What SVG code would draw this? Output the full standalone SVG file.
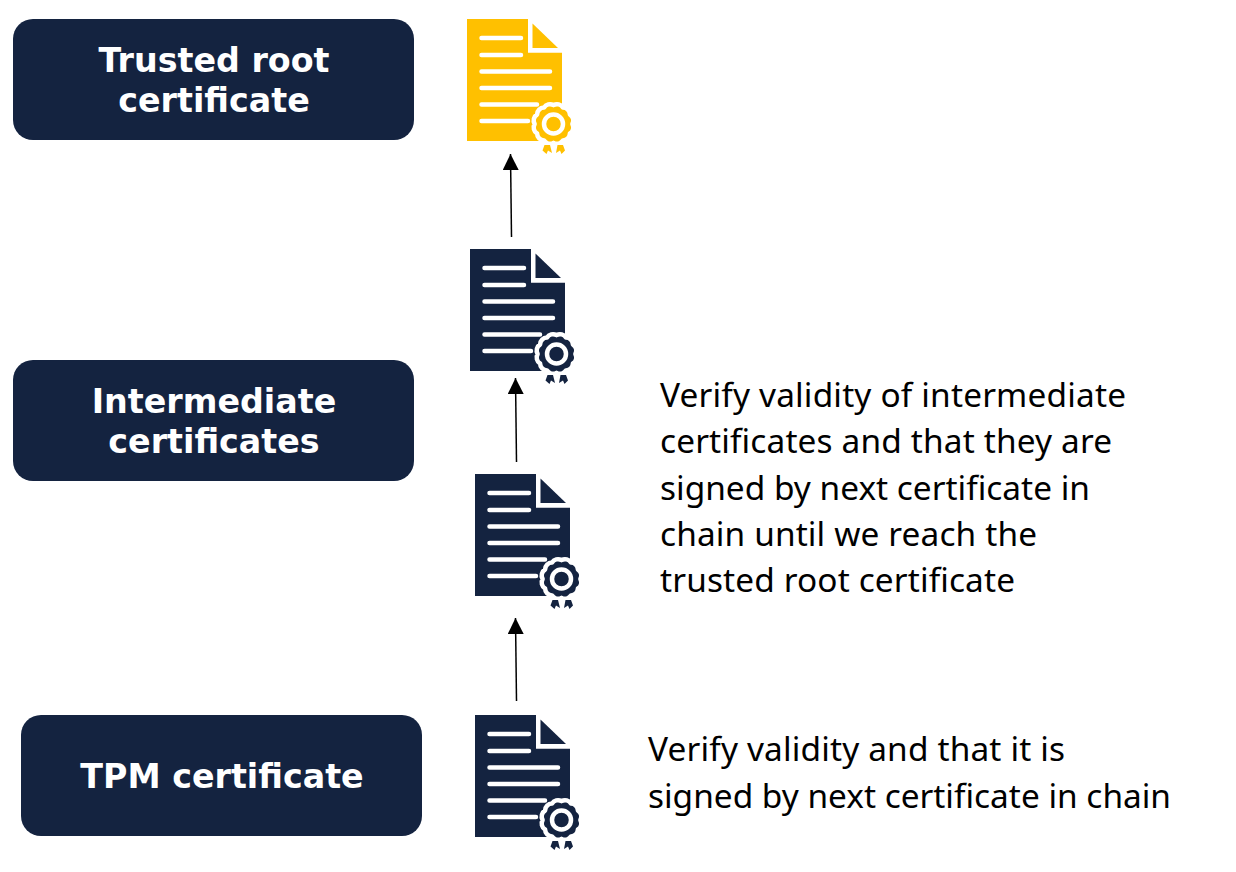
<svg xmlns="http://www.w3.org/2000/svg" width="1236" height="872" viewBox="0 0 1236 872">
<style>
.box{fill:#142340}
.lbl{font-family:"DejaVu Sans",sans-serif;font-weight:700;font-size:33.3px;fill:#fff;text-anchor:middle}
.txt{font-family:"Noto Sans","Open Sans",sans-serif;font-size:33.4px;fill:#000}
.navy{color:#142340}
.gold{color:#ffc000}
.ln{stroke:#fff;stroke-width:4.500;stroke-linecap:round;fill:none}
.conn{stroke:#000;stroke-width:1.5;fill:none;marker-end:url(#ah)}
</style>
<defs>
<marker id="ah" markerUnits="userSpaceOnUse" markerWidth="18" markerHeight="18" refX="16" refY="8" orient="auto"><path d="M0 0L16 8L0 16Z" fill="#000"/></marker>
<path id="scallop" d="M17.500 0A6.500 6.500 0 0 1 15.200 8.800A6.500 6.500 0 0 1 8.800 15.200A6.500 6.500 0 0 1 0 17.500A6.500 6.500 0 0 1 -8.800 15.200A6.500 6.500 0 0 1 -15.200 8.800A6.500 6.500 0 0 1 -17.500 0A6.500 6.500 0 0 1 -15.200 -8.800A6.500 6.500 0 0 1 -8.800 -15.200A6.500 6.500 0 0 1 0 -17.500A6.500 6.500 0 0 1 8.800 -15.200A6.500 6.500 0 0 1 15.200 -8.800A6.500 6.500 0 0 1 17.500 0Z"/>
<g id="cert">
<path d="M0 0H61V33.700H95V122H0Z" fill="currentColor"/>
<path d="M65.500 4.500L91 29H65.500Z" fill="currentColor"/>
<path class="ln" d="M14.500 19H54M14.500 36H54M14.500 52.500H83M14.500 69H83M14.500 85.500H70M14.500 102H61"/>
<g transform="translate(86.500 105)">
<use href="#scallop" transform="scale(1.08)" fill="currentColor" stroke="#fff" stroke-width="4.200" stroke-linejoin="round"/>
<circle r="9.500" fill="none" stroke="#fff" stroke-width="4.500"/>
</g>
<path fill="currentColor" d="M77.500 126H83L85 134L81 131.500L79.500 135L75.500 131.500ZM90.500 126H96L98 131.500L94.500 135L93 131.500L89 134Z"/>
</g>
</defs>
<g id="connectors">
<path class="conn" d="M511.500 237L510.500 154"/>
<path class="conn" d="M516.500 462L515.500 378"/>
<path class="conn" d="M516.500 701L515.500 618"/>
</g>
<g id="node-root-label"><rect class="box" x="13" y="19" width="401" height="121" rx="20"/><text class="lbl" x="214" y="72">Trusted root</text><text class="lbl" x="214" y="112">certificate</text></g>
<g id="node-intermediate-label"><rect class="box" x="13" y="360" width="401" height="121" rx="20"/><text class="lbl" x="214" y="413">Intermediate</text><text class="lbl" x="214" y="453">certificates</text></g>
<g id="node-tpm-label"><rect class="box" x="21" y="715" width="401" height="121" rx="20"/><text class="lbl" x="222" y="788">TPM certificate</text></g>
<g id="node-cert-root" class="gold"><use href="#cert" x="467" y="19"/></g>
<g id="node-cert-int2" class="navy"><use href="#cert" x="470" y="249"/></g>
<g id="node-cert-int1" class="navy"><use href="#cert" x="475" y="474"/></g>
<g id="node-cert-tpm" class="navy"><use href="#cert" x="475" y="715"/></g>
<g id="note-intermediate"><text class="txt" x="660" y="407" textLength="466">Verify validity of intermediate</text><text class="txt" x="660" y="453" textLength="452">certificates and that they are</text><text class="txt" x="660" y="500" textLength="430">signed by next certificate in</text><text class="txt" x="660" y="546" textLength="377">chain until we reach the</text><text class="txt" x="660" y="592" textLength="355">trusted root certificate</text></g>
<g id="note-tpm"><text class="txt" x="648" y="761" textLength="417">Verify validity and that it is</text><text class="txt" x="648" y="808" textLength="523">signed by next certificate in chain</text></g>
</svg>
